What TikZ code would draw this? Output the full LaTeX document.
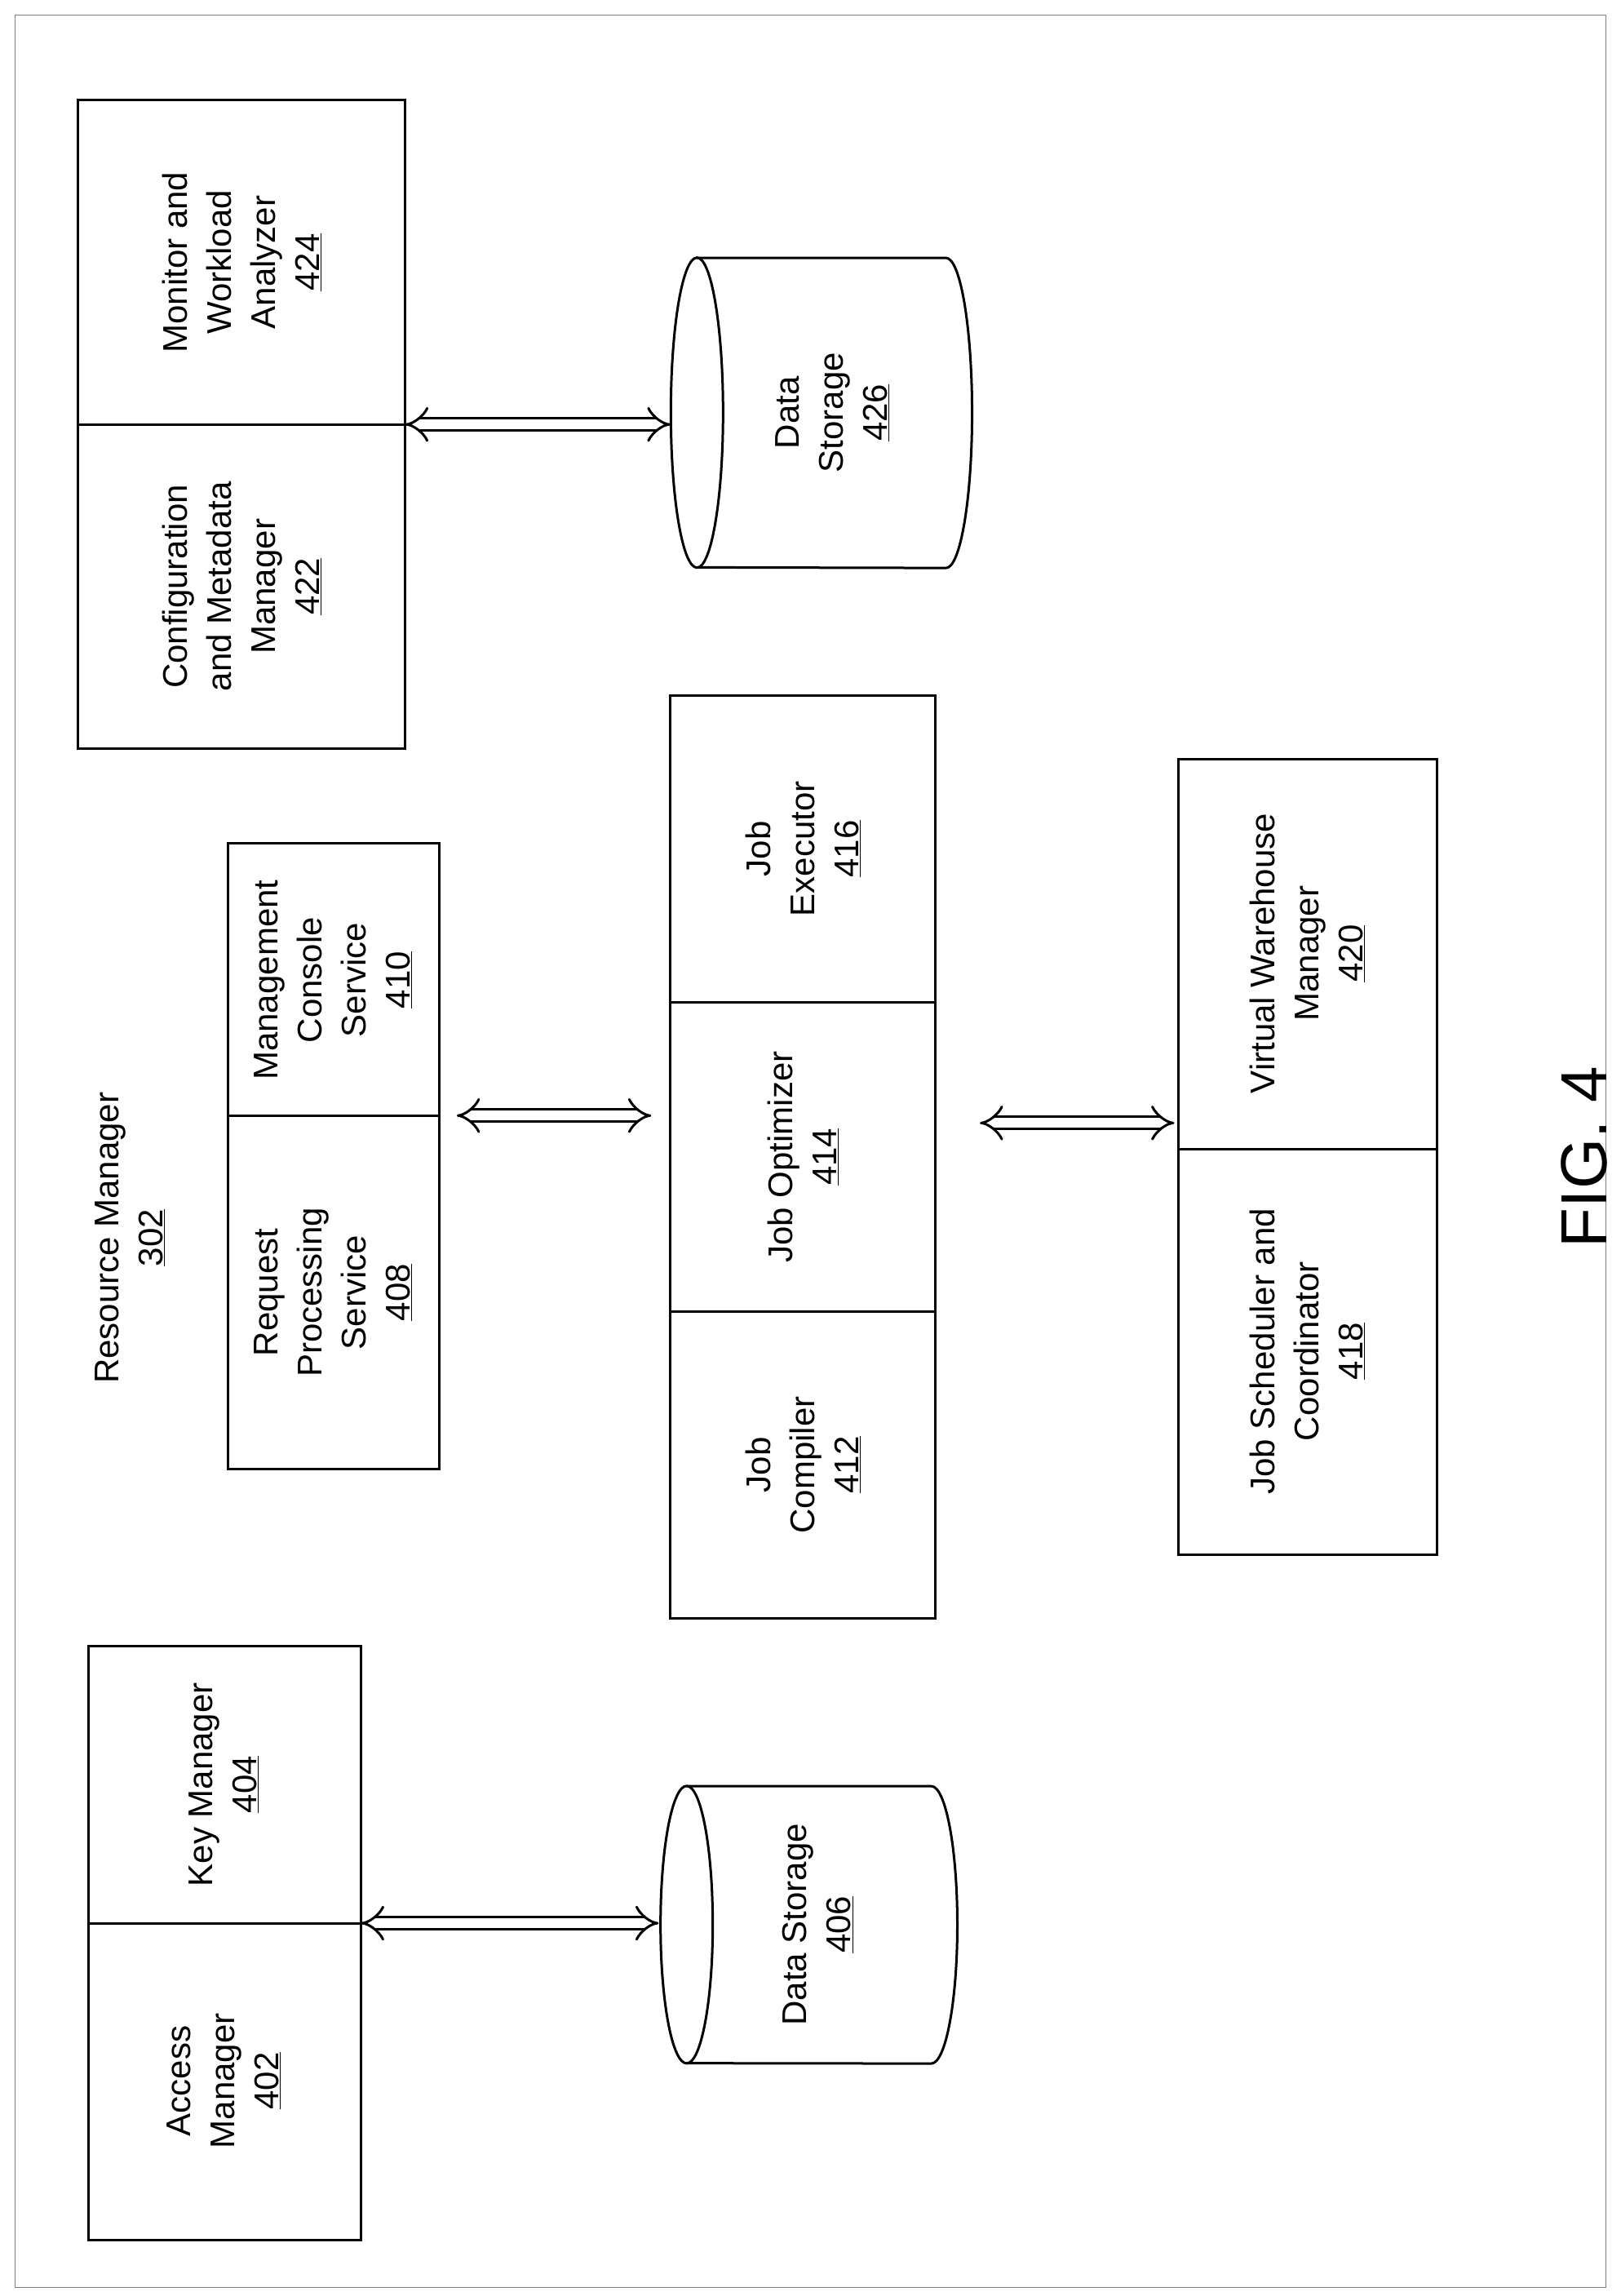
\documentclass[tikz,border=0pt]{standalone}
\usepackage{fontspec}
\setmainfont{Liberation Sans}
\usetikzlibrary{arrows.meta}
\begin{document}
\begin{tikzpicture}[x=1.806pt,y=-1.806pt,
  bx/.style={line width=3pt},
  lbl/.style={rotate=90,align=center,font=\fontsize{42}{54}\selectfont},
  dbl/.style={double,double distance=12pt,line width=3pt,{Implies[length=20pt]}-{Implies[length=20pt]}}]
\useasboundingbox (0,0) rectangle (1100,1558);
\draw[line width=1pt,gray] (10,10) rectangle (1090,1552);
% 422/424
\draw[bx] (53,68) rectangle (275,508); \draw[bx] (53,288) -- (275,288);
\node[lbl] (t424) at (164,178) {Monitor and\\Workload\\Analyzer\\\underline{424}};
\node[lbl] (t422) at (164,398) {Configuration\\and Metadata\\Manager\\\underline{422}};
% cylinder 426
\draw[bx] (473,175) -- (642,175) arc[start angle=90,end angle=-90,x radius=32pt,y radius=190pt] -- (473,385);
\draw[bx] (473,280) ellipse[x radius=32pt,y radius=190pt];
\node[lbl] (t426) at (565,280) {Data\\Storage\\\underline{426}};
\coordinate (a1) at (275,288); \coordinate (a2) at (455,288);
\draw[dbl] (a1) -- (a2);
% Resource manager
\node[lbl] (rm) at (88,840) {Resource Manager\\\underline{302}};
% 408/410
\draw[bx] (155,572) rectangle (298,997); \draw[bx] (155,757) -- (298,757);
\node[lbl] (t410) at (226,665) {Management\\Console\\Service\\\underline{410}};
\node[lbl] (t408) at (226,877) {Request\\Processing\\Service\\\underline{408}};
\coordinate (b1) at (310,757); \coordinate (b2) at (442,757);
\draw[dbl] (b1) -- (b2);
% 412/414/416
\draw[bx] (455,472) rectangle (635,1098); \draw[bx] (455,680) -- (635,680); \draw[bx] (455,890) -- (635,890);
\node[lbl] (t416) at (545,576) {Job\\Executor\\\underline{416}};
\node[lbl] (t414) at (545,785) {Job Optimizer\\\underline{414}};
\node[lbl] (t412) at (545,994) {Job\\Compiler\\\underline{412}};
\coordinate (c1) at (665,762); \coordinate (c2) at (797,762);
\draw[dbl] (c1) -- (c2);
% 418/420
\draw[bx] (800,515) rectangle (975,1055); \draw[bx] (800,780) -- (975,780);
\node[lbl] (t420) at (887,647) {Virtual Warehouse\\Manager\\\underline{420}};
\node[lbl] (t418) at (887,917) {Job Scheduler and\\Coordinator\\\underline{418}};
% 402/404
\draw[bx] (60,1117) rectangle (245,1520); \draw[bx] (60,1305) -- (245,1305);
\node[lbl] (t404) at (152,1211) {Key Manager\\\underline{404}};
\node[lbl] (t402) at (152,1412) {Access\\Manager\\\underline{402}};
% cylinder 406
\draw[bx] (466,1212) -- (632,1212) arc[start angle=90,end angle=-90,x radius=32pt,y radius=170pt] -- (466,1400);
\draw[bx] (466,1306) ellipse[x radius=32pt,y radius=170pt];
\node[lbl] (t406) at (555,1306) {Data Storage\\\underline{406}};
\coordinate (d1) at (245,1305); \coordinate (d2) at (447,1305);
\draw[dbl] (d1) -- (d2);
% FIG
\node[rotate=90,font=\fontsize{80}{96}\selectfont] (fig) at (1075,785) {FIG. 4};
\end{tikzpicture}
\end{document}
